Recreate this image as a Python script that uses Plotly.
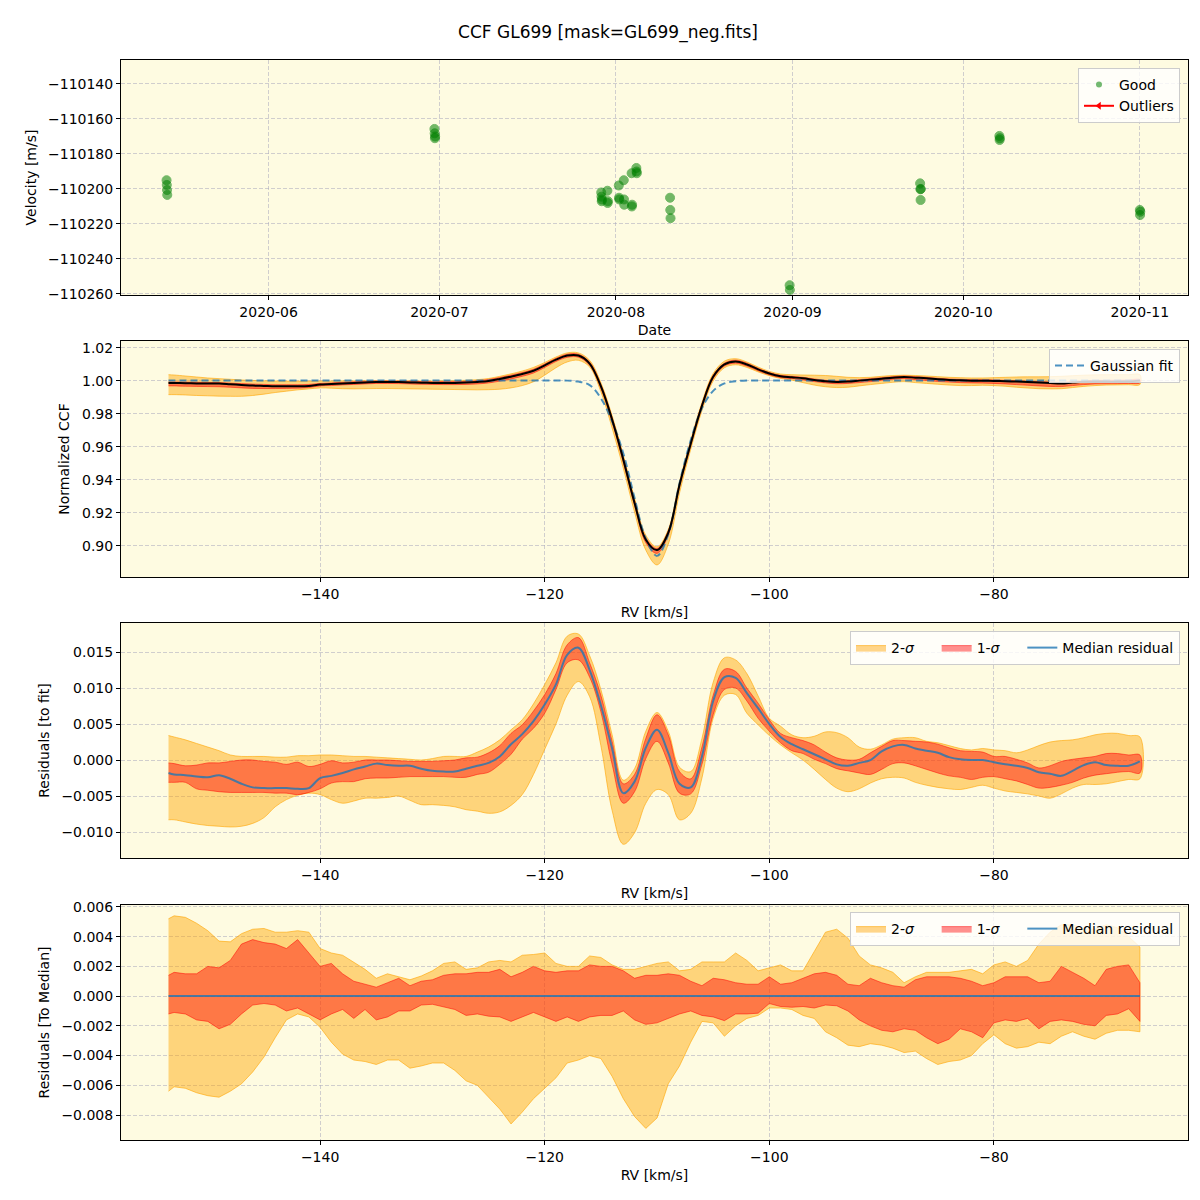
import plotly.graph_objects as go
from plotly.subplots import make_subplots

TITLE = "CCF GL699 [mask=GL699_neg.fits]"

# ---------------- top panel: velocities ----------------
DATES = [
    "2020-05-14 02:00", "2020-05-14 03:00", "2020-05-14 04:00", "2020-05-14 05:00",
    "2020-06-30 03:00", "2020-06-30 04:00", "2020-06-30 05:00", "2020-06-30 06:00",
    "2020-07-29 10:00", "2020-07-29 11:00", "2020-07-29 12:00", "2020-07-29 13:00",
    "2020-07-30 12:00", "2020-07-30 13:00", "2020-07-30 14:00",
    "2020-08-01 12:00", "2020-08-01 13:00", "2020-08-01 14:00",
    "2020-08-02 09:00", "2020-08-02 10:00", "2020-08-02 11:00",
    "2020-08-03 18:00", "2020-08-03 19:00", "2020-08-03 20:00",
    "2020-08-04 14:00", "2020-08-04 15:00", "2020-08-04 16:00",
    "2020-08-10 12:00", "2020-08-10 13:00", "2020-08-10 14:00",
    "2020-08-31 12:00", "2020-08-31 13:00",
    "2020-09-23 10:00", "2020-09-23 11:00", "2020-09-23 12:00", "2020-09-23 13:00",
    "2020-10-07 08:00", "2020-10-07 09:00", "2020-10-07 10:00",
    "2020-11-01 00:00", "2020-11-01 01:00", "2020-11-01 02:00",
]
VELS = [
    -110195.0, -110197.7, -110200.6, -110203.4,
    -110165.7, -110168.2, -110171.0, -110170.0,
    -110202.0, -110204.4, -110207.0, -110206.0,
    -110201.0, -110208.0, -110207.0,
    -110198.0, -110205.0, -110206.0,
    -110195.0, -110206.0, -110209.0,
    -110191.0, -110210.0, -110209.0,
    -110188.0, -110190.0, -110191.0,
    -110205.0, -110212.0, -110216.7,
    -110255.0, -110257.7,
    -110196.8, -110200.2, -110206.3, -110200.0,
    -110169.7, -110172.0, -110171.0,
    -110212.0, -110214.9, -110213.0,
]
VEL_TICKS = [-110140, -110160, -110180, -110200, -110220, -110240, -110260]
VEL_TICK_LABELS = ["\u2212110140", "\u2212110160", "\u2212110180", "\u2212110200",
                   "\u2212110220", "\u2212110240", "\u2212110260"]

# ---------------- RV grid (km/s) ----------------
RV = [-153.5,
      -153, -152, -151, -150, -149, -148, -147, -146, -145, -144,
      -143, -142, -141, -140, -139, -138, -137, -136, -135, -134,
      -133, -132, -131, -130, -129, -128, -127, -126, -125, -124,
      -123, -122, -121, -120, -119, -118, -117, -116, -115, -114,
      -113, -112, -111, -110, -109, -108, -107, -106, -105, -104,
      -103, -102, -101, -100, -99, -98, -97, -96, -95, -94,
      -93, -92, -91, -90, -89, -88, -87, -86, -85, -84,
      -83, -82, -81, -80, -79, -78, -77, -76, -75, -74,
      -73, -72, -71, -70, -69, -68, -67]

# ---------------- panel 2: normalized CCF ----------------
CCF_MED = [0.9988,
    0.9988, 0.9986, 0.9985, 0.9984, 0.9984, 0.9980, 0.9976, 0.9972, 0.9970, 0.9968,
    0.9968, 0.9968, 0.9970, 0.9978, 0.9981, 0.9985, 0.9988, 0.9991, 0.9994, 0.9994,
    0.9993, 0.9991, 0.9989, 0.9988, 0.9988, 0.9988, 0.9990, 0.9994, 1.0000, 1.0012,
    1.0026, 1.0042, 1.0062, 1.0095, 1.0129, 1.0154, 1.0154, 1.0105, 0.9968, 0.9766,
    0.9523, 0.9261, 0.9038, 0.8975, 0.9080, 0.9370, 0.9620, 0.9850, 1.0025, 1.0100,
    1.0118, 1.0100, 1.0070, 1.0045, 1.0028, 1.0022, 1.0016, 1.0006, 0.9998, 0.9994,
    0.9996, 1.0002, 1.0008, 1.0014, 1.0020, 1.0024, 1.0020, 1.0016, 1.0010, 1.0006,
    1.0004, 1.0002, 1.0001, 1.0000, 0.9998, 0.9996, 0.9993, 0.9990, 0.9987, 0.9984,
    0.9990, 0.9995, 0.9997, 0.9996, 0.9996, 0.9997, 1.0002]
CCF_2U = [1.0038,
    1.0036, 1.0030, 1.0024, 1.0018, 1.0014, 1.0010, 1.0006, 1.0003, 1.0001, 1.0000,
    0.9999, 0.9999, 0.9999, 1.0000, 1.0000, 1.0001, 1.0001, 1.0002, 1.0002, 1.0002,
    1.0001, 1.0001, 1.0000, 1.0000, 1.0001, 1.0002, 1.0004, 1.0008, 1.0015, 1.0028,
    1.0043, 1.0060, 1.0082, 1.0112, 1.0145, 1.0170, 1.0170, 1.0125, 0.9990, 0.9790,
    0.9550, 0.9290, 0.9065, 0.8995, 0.9100, 0.9390, 0.9640, 0.9870, 1.0045, 1.0120,
    1.0135, 1.0115, 1.0084, 1.0058, 1.0042, 1.0038, 1.0036, 1.0035, 1.0033, 1.0028,
    1.0022, 1.0020, 1.0022, 1.0028, 1.0033, 1.0035, 1.0033, 1.0030, 1.0026, 1.0022,
    1.0020, 1.0018, 1.0018, 1.0020, 1.0022, 1.0024, 1.0025, 1.0025, 1.0026, 1.0028,
    1.0032, 1.0035, 1.0037, 1.0038, 1.0038, 1.0038, 1.0038]
CCF_2L = [0.9917,
    0.9917, 0.9915, 0.9912, 0.9910, 0.9908, 0.9907, 0.9907, 0.9912, 0.9920, 0.9930,
    0.9938, 0.9946, 0.9952, 0.9958, 0.9956, 0.9953, 0.9952, 0.9953, 0.9954, 0.9954,
    0.9953, 0.9952, 0.9951, 0.9950, 0.9949, 0.9948, 0.9947, 0.9946, 0.9947, 0.9950,
    0.9958, 0.9972, 0.9995, 1.0035, 1.0080, 1.0115, 1.0125, 1.0085, 0.9935, 0.9715,
    0.9470, 0.9205, 0.8975, 0.8885, 0.9010, 0.9320, 0.9585, 0.9820, 1.0000, 1.0080,
    1.0098, 1.0082, 1.0055, 1.0032, 1.0015, 1.0005, 0.9990, 0.9975, 0.9965, 0.9960,
    0.9962, 0.9970, 0.9978, 0.9985, 0.9992, 0.9996, 0.9990, 0.9985, 0.9980, 0.9975,
    0.9972, 0.9972, 0.9974, 0.9972, 0.9968, 0.9962, 0.9957, 0.9953, 0.9952, 0.9953,
    0.9960, 0.9967, 0.9972, 0.9975, 0.9976, 0.9977, 0.9978]
CCF_1U = [0.9994,
    0.9994, 0.9993, 0.9992, 0.9991, 0.9990, 0.9987, 0.9984, 0.9981, 0.9979, 0.9977,
    0.9977, 0.9977, 0.9979, 0.9985, 0.9988, 0.9992, 0.9995, 0.9998, 1.0000, 1.0000,
    0.9999, 0.9998, 0.9996, 0.9995, 0.9996, 0.9996, 0.9998, 1.0002, 1.0009, 1.0021,
    1.0035, 1.0051, 1.0071, 1.0103, 1.0137, 1.0162, 1.0162, 1.0114, 0.9978, 0.9777,
    0.9535, 0.9273, 0.9050, 0.8985, 0.9090, 0.9380, 0.9630, 0.9860, 1.0034, 1.0108,
    1.0126, 1.0108, 1.0077, 1.0051, 1.0034, 1.0028, 1.0022, 1.0012, 1.0004, 1.0000,
    1.0002, 1.0008, 1.0014, 1.0020, 1.0026, 1.0030, 1.0026, 1.0022, 1.0016, 1.0012,
    1.0010, 1.0008, 1.0007, 1.0006, 1.0004, 1.0002, 0.9999, 0.9996, 0.9994, 0.9992,
    0.9997, 1.0002, 1.0004, 1.0004, 1.0005, 1.0006, 1.0008]
CCF_1L = [0.9970,
    0.9970, 0.9968, 0.9967, 0.9966, 0.9965, 0.9962, 0.9958, 0.9955, 0.9954, 0.9954,
    0.9955, 0.9956, 0.9960, 0.9970, 0.9972, 0.9976, 0.9979, 0.9982, 0.9985, 0.9985,
    0.9984, 0.9982, 0.9980, 0.9979, 0.9978, 0.9978, 0.9979, 0.9982, 0.9988, 0.9999,
    1.0012, 1.0028, 1.0048, 1.0082, 1.0118, 1.0143, 1.0144, 1.0095, 0.9955, 0.9750,
    0.9505, 0.9245, 0.9020, 0.8955, 0.9065, 0.9355, 0.9607, 0.9838, 1.0014, 1.0090,
    1.0108, 1.0090, 1.0062, 1.0037, 1.0020, 1.0014, 1.0006, 0.9996, 0.9988, 0.9983,
    0.9985, 0.9990, 0.9996, 1.0004, 1.0010, 1.0014, 1.0008, 1.0003, 0.9997, 0.9993,
    0.9990, 0.9988, 0.9987, 0.9985, 0.9982, 0.9978, 0.9974, 0.9970, 0.9967, 0.9966,
    0.9972, 0.9978, 0.9982, 0.9983, 0.9984, 0.9985, 0.9988]
GAUSS_FIT = [1.0003,
    1.0003, 1.0003, 1.0003, 1.0003, 1.0003, 1.0003, 1.0003, 1.0003, 1.0003, 1.0003,
    1.0003, 1.0003, 1.0003, 1.0003, 1.0003, 1.0003, 1.0003, 1.0003, 1.0003, 1.0003,
    1.0003, 1.0003, 1.0003, 1.0003, 1.0003, 1.0003, 1.0003, 1.0003, 1.0003, 1.0003,
    1.0003, 1.0003, 1.0003, 1.0003, 1.0003, 1.0002, 0.9996, 0.9975, 0.9895, 0.9755,
    0.9560, 0.9290, 0.9045, 0.8940, 0.9070, 0.9380, 0.9640, 0.9835, 0.9940, 0.9985,
    0.9998, 1.0003, 1.0003, 1.0003, 1.0003, 1.0003, 1.0003, 1.0003, 1.0003, 1.0003,
    1.0003, 1.0003, 1.0003, 1.0003, 1.0003, 1.0003, 1.0003, 1.0003, 1.0003, 1.0003,
    1.0003, 1.0003, 1.0003, 1.0003, 1.0003, 1.0003, 1.0003, 1.0003, 1.0003, 1.0003,
    1.0003, 1.0003, 1.0003, 1.0003, 1.0003, 1.0003, 1.0003]

# ---------------- panel 3: residuals to fit (units of 1e-3) ----------------
RES_MED = [-1.8,
    -2.0, -2.1, -2.3, -2.4, -2.1, -2.6, -3.3, -3.8, -3.9, -3.9,
    -3.9, -4.0, -3.9, -2.5, -2.2, -1.8, -1.3, -0.9, -0.5, -0.7,
    -0.8, -0.8, -1.2, -1.5, -1.6, -1.6, -1.2, -0.8, -0.4, 0.5,
    2.2, 3.6, 5.4, 7.7, 10.5, 14.6, 15.6, 12.5, 7.6, 1.6,
    -4.6, -3.0, 1.7, 4.2, 1.0, -3.3, -3.8, 0.5, 8.2, 11.5,
    11.4, 9.3, 7.2, 5.0, 3.2, 2.2, 1.5, 0.8, 0.1, -0.6,
    -0.8, -0.4, 0.0, 1.2, 1.9, 2.1, 1.6, 1.3, 1.0, 0.4,
    0.1, 0.0, 0.0, -0.3, -0.6, -0.8, -1.1, -1.7, -1.9, -2.2,
    -1.5, -0.7, -0.3, -0.7, -0.8, -0.8, -0.2]
RES_1U = [-0.4,
    -0.5, -0.8, -0.7, -0.4, -0.4, -0.2, 0.0, 0.0, -0.2, -0.3,
    -0.6, -0.3, -0.9, -0.6, -0.1, -0.4, -0.3, 0.0, 0.0, 0.0,
    -0.1, -0.2, -0.2, -0.2, -0.1, 0.0, 0.3, 0.4, 1.0, 2.0,
    3.7, 4.9, 6.8, 9.1, 12.0, 16.0, 17.0, 13.5, 9.0, 2.6,
    -3.3, -2.0, 3.0, 6.3, 3.5, -1.6, -2.6, 1.8, 9.0, 12.6,
    12.3, 10.0, 7.9, 5.6, 3.7, 3.1, 2.7, 2.1, 1.1, 0.3,
    0.0, 0.1, 1.0, 1.9, 2.7, 2.7, 2.6, 2.5, 2.2, 1.7,
    1.3, 1.2, 1.1, 0.5, 0.5, 0.1, -0.4, -1.1, -0.8, -0.2,
    0.1, 0.3, 0.5, 0.9, 0.9, 0.7, 0.7]
RES_1L = [-3.1,
    -3.1, -3.1, -4.0, -4.2, -4.4, -4.5, -4.5, -4.5, -4.5, -4.6,
    -4.6, -4.8, -4.5, -4.0, -3.2, -3.0, -3.0, -2.6, -2.5, -2.5,
    -2.4, -2.3, -2.3, -2.3, -2.3, -2.4, -2.4, -2.0, -1.7, -0.6,
    0.8, 2.9, 4.4, 6.5, 9.8, 13.5, 13.9, 11.5, 6.7, -0.6,
    -6.0, -4.4, 0.2, 2.6, -0.4, -4.6, -4.7, -0.6, 6.3, 9.8,
    10.0, 8.2, 5.8, 4.0, 2.4, 1.3, 0.9, 0.1, -0.5, -1.2,
    -1.5, -1.8, -2.0, -1.3, -0.5, -0.4, -0.8, -1.3, -1.8, -2.2,
    -2.4, -2.7, -2.4, -2.3, -2.6, -2.9, -3.4, -3.9, -3.8, -3.5,
    -3.1, -2.5, -2.1, -1.9, -1.7, -1.6, -1.8]
RES_2U = [3.4,
    3.2, 2.8, 2.3, 1.8, 1.3, 0.7, 0.5, 0.5, 0.5, 0.4,
    0.4, 0.6, 0.6, 0.7, 0.7, 0.6, 0.5, 0.5, 0.4, 0.3,
    0.2, 0.1, 0.0, 0.2, 0.5, 0.5, 0.5, 1.1, 1.8, 2.8,
    4.2, 5.6, 7.8, 10.5, 13.5, 17.2, 17.5, 14.5, 9.8, 3.5,
    -2.8, -1.2, 4.0, 6.6, 4.0, -1.0, -1.6, 3.0, 10.8, 14.2,
    13.9, 12.0, 8.9, 5.8, 4.7, 3.5, 3.1, 3.3, 3.9, 3.8,
    3.1, 1.8, 1.5, 2.1, 2.9, 3.1, 3.1, 2.6, 2.4, 2.0,
    1.6, 1.4, 1.6, 1.4, 1.3, 1.0, 1.4, 2.0, 2.5, 2.7,
    2.8, 3.1, 3.5, 3.7, 3.7, 3.4, 3.2]
RES_2L = [-8.3,
    -8.3, -8.6, -8.9, -9.1, -9.2, -9.3, -9.2, -8.8, -8.0, -6.5,
    -5.5, -4.9, -4.6, -4.8, -5.5, -6.0, -5.7, -5.3, -5.3, -5.2,
    -5.0, -5.6, -6.2, -6.2, -6.3, -6.5, -6.9, -7.1, -7.4, -7.2,
    -6.3, -4.8, -2.0, 1.5, 5.0, 9.0, 10.9, 8.8, 2.0, -7.0,
    -11.7, -10.1, -6.0, -4.1, -4.8, -8.3, -7.4, -2.5, 5.8, 9.0,
    9.1, 6.5, 4.9, 3.4, 2.1, 1.0, 0.0, -1.3, -2.7, -3.9,
    -4.4, -4.0, -3.2, -2.6, -2.4, -2.5, -3.1, -3.5, -3.8, -4.0,
    -4.1, -3.8, -3.5, -3.9, -4.3, -4.5, -4.7, -5.0, -5.3, -4.7,
    -3.9, -3.4, -3.4, -3.3, -3.0, -2.7, -2.6]

# ---------------- panel 4: residuals to median (units of 1e-3) ----------------
MED_1U = [1.4,
    1.6, 1.5, 1.5, 2.0, 1.9, 2.4, 3.5, 3.8, 3.6, 3.5,
    3.2, 3.8, 2.9, 2.0, 2.2, 1.5, 1.0, 0.8, 0.6, 0.9,
    1.2, 0.7, 1.0, 1.1, 1.4, 1.5, 1.5, 1.6, 1.6, 1.8,
    1.3, 1.6, 2.0, 1.7, 1.6, 1.7, 1.7, 2.1, 2.0, 2.0,
    1.7, 1.2, 1.4, 1.4, 1.5, 1.4, 1.0, 0.7, 1.2, 1.1,
    0.9, 0.8, 0.8, 1.3, 0.8, 0.9, 1.2, 1.5, 1.6, 1.4,
    0.8, 0.7, 1.2, 0.9, 0.7, 0.6, 1.1, 1.3, 1.3, 1.3,
    1.2, 1.0, 0.7, 0.9, 1.3, 1.3, 1.3, 0.9, 1.0, 2.0,
    1.6, 1.2, 0.7, 1.8, 2.0, 2.1, 0.9]
MED_1L = [-1.2,
    -1.1, -1.2, -1.6, -1.7, -2.2, -1.9, -1.2, -0.6, -0.5, -0.6,
    -1.0, -0.8, -1.2, -1.6, -1.2, -0.9, -1.5, -0.9, -1.6, -1.4,
    -1.0, -1.0, -0.6, -0.55, -0.7, -0.9, -1.3, -1.2, -1.35, -1.4,
    -1.7, -1.4, -1.1, -1.4, -1.7, -1.4, -1.7, -1.4, -1.3, -1.3,
    -1.0, -1.6, -1.9, -1.8, -1.5, -1.2, -1.0, -1.3, -1.4, -1.65,
    -1.2, -1.2, -1.15, -0.5, -0.7, -0.75, -0.7, -0.8, -0.6, -0.65,
    -1.0, -1.6, -2.0, -2.3, -2.4, -2.2, -2.3, -2.8, -3.2, -2.9,
    -2.2, -2.4, -2.8, -1.8, -1.6, -1.7, -1.5, -2.2, -1.7, -1.6,
    -1.7, -1.9, -2.0, -1.3, -1.2, -0.85, -1.7]
MED_2U = [5.2,
    5.4, 5.3, 4.9, 4.4, 3.7, 3.65, 4.2, 4.5, 4.55, 4.3,
    4.3, 4.4, 4.3, 3.2, 2.9, 2.75, 2.3, 1.8, 1.2, 1.5,
    1.3, 1.1, 1.35, 1.7, 2.2, 2.3, 1.8, 1.9, 2.3, 2.4,
    2.3, 2.75, 2.8, 2.9, 2.2, 2.0, 2.0, 2.7, 2.6, 2.1,
    1.8, 1.8, 2.0, 2.2, 2.3, 1.7, 1.8, 2.3, 2.3, 2.3,
    2.9, 2.4, 1.7, 1.9, 2.1, 1.7, 1.7, 3.0, 4.3, 4.5,
    3.9, 2.7, 2.1, 1.9, 1.6, 0.9, 1.3, 1.6, 1.6, 1.6,
    1.7, 1.8, 1.5, 2.1, 2.3, 2.0, 2.4, 3.5, 4.3, 4.8,
    4.8, 4.5, 4.5, 4.8, 4.6, 4.0, 3.3]
MED_2L = [-6.4,
    -6.1, -6.2, -6.5, -6.7, -6.8, -6.4, -5.9, -5.1, -4.1, -2.8,
    -1.6, -1.2, -1.4, -2.1, -3.1, -3.9, -4.3, -4.4, -4.6, -4.3,
    -4.3, -4.85, -4.7, -4.5, -4.5, -5.0, -5.7, -6.0, -6.8, -7.6,
    -8.6, -7.8, -6.9, -6.2, -5.5, -4.5, -4.3, -4.0, -4.2, -5.4,
    -6.9, -8.1, -8.9, -8.2, -5.9, -4.7, -3.1, -1.7, -1.8, -2.7,
    -2.0, -1.5, -1.3, -0.8, -0.8, -0.9, -1.3, -1.5, -2.4, -2.8,
    -3.3, -3.4, -3.2, -3.3, -3.5, -3.8, -3.7, -4.2, -4.6, -4.4,
    -4.3, -4.0, -3.2, -2.6, -3.2, -3.5, -3.4, -3.1, -3.2, -2.7,
    -2.4, -2.7, -2.9, -2.5, -2.3, -2.3, -2.4]
MED_LINE = [0.0] * len(RV)

for arr in (CCF_MED, CCF_2U, CCF_2L, CCF_1U, CCF_1L, GAUSS_FIT, RES_MED, RES_1U,
            RES_1L, RES_2U, RES_2L, MED_1U, MED_1L, MED_2U, MED_2L):
    assert len(arr) == len(RV), len(arr)

SCALE = 1e-3

# ---------------- styles ----------------
FONT = "DejaVu Sans"
FS = 14
BG = "#fefbe1"
ORANGE_FILL = "rgba(255,165,0,0.45)"
ORANGE_EDGE = "rgba(255,165,0,0.6)"
RED_FILL = "rgba(255,0,0,0.43)"
RED_EDGE = "rgba(255,0,0,0.5)"
BLUE = "rgba(31,119,180,0.8)"
GRID = "rgba(170,170,190,0.55)"
PAD = "\u00a0\u00a0\u00a0\u00a0"

fig = make_subplots(rows=4, cols=1)


def band(up, lo, fill, edge, name, row, legend, showlegend, shape, scale=1.0):
    xs = RV + RV[::-1]
    ys = [v * scale for v in up] + [v * scale for v in lo[::-1]]
    fig.add_trace(go.Scatter(x=xs, y=ys, fill="toself", fillcolor=fill, mode="lines",
                             line=dict(color=edge, width=1, shape=shape),
                             name=name, legend=legend, showlegend=showlegend,
                             hoverinfo="skip"), row=row, col=1)


# panel 1
fig.add_trace(go.Scatter(x=DATES, y=VELS, mode="markers", name="Good", showlegend=False,
                         marker=dict(color="green", size=9, opacity=0.55,
                                     line=dict(color="green", width=1))), row=1, col=1)
fig.add_trace(go.Scatter(x=[None], y=[None], mode="markers", name="Good", legend="legend",
                         marker=dict(color="green", size=6, opacity=0.55)), row=1, col=1)
fig.add_trace(go.Scatter(x=[None], y=[None], mode="lines+markers", name="Outliers",
                         legend="legend", line=dict(color="red", width=2),
                         marker=dict(symbol="triangle-left", size=7, color="red")),
              row=1, col=1)

# panel 2
band(CCF_2U, CCF_2L, ORANGE_FILL, ORANGE_EDGE, "2-σ", 2, "legend2", False, "spline")
band(CCF_1U, CCF_1L, RED_FILL, RED_EDGE, "1-σ", 2, "legend2", False, "spline")
fig.add_trace(go.Scatter(x=RV, y=GAUSS_FIT, mode="lines", name="Gaussian fit", legend="legend2",
                         line=dict(color=BLUE, width=2, dash="7px,4px", shape="spline")),
              row=2, col=1)
fig.add_trace(go.Scatter(x=RV, y=CCF_MED, mode="lines", name="Median CCF", legend="legend2",
                         showlegend=False,
                         line=dict(color="black", width=2, shape="spline")), row=2, col=1)

# panel 3
band(RES_2U, RES_2L, ORANGE_FILL, ORANGE_EDGE, "2-<i>σ</i>" + PAD, 3, "legend3", True, "spline", SCALE)
band(RES_1U, RES_1L, RED_FILL, RED_EDGE, "1-<i>σ</i>" + PAD, 3, "legend3", True, "spline", SCALE)
fig.add_trace(go.Scatter(x=RV, y=[v * SCALE for v in RES_MED], mode="lines",
                         name="Median residual", legend="legend3",
                         line=dict(color=BLUE, width=2, shape="spline")), row=3, col=1)

# panel 4
band(MED_2U, MED_2L, ORANGE_FILL, ORANGE_EDGE, "2-<i>σ</i>" + PAD, 4, "legend4", True, "linear", SCALE)
band(MED_1U, MED_1L, RED_FILL, RED_EDGE, "1-<i>σ</i>" + PAD, 4, "legend4", True, "linear", SCALE)
fig.add_trace(go.Scatter(x=RV, y=MED_LINE, mode="lines", name="Median residual",
                         legend="legend4", line=dict(color=BLUE, width=2)), row=4, col=1)

# ---------------- axes ----------------
axis_common = dict(showline=True, linecolor="black", linewidth=1, mirror=True,
                   ticks="outside", ticklen=4, tickcolor="black", showgrid=True,
                   gridcolor=GRID, griddash="4px,2px", gridwidth=1, zeroline=False,
                   tickfont=dict(size=FS, color="black", family=FONT),
                   title_font=dict(size=FS, color="black", family=FONT))

fig.update_xaxes(**axis_common)
fig.update_yaxes(**axis_common)

fig.update_xaxes(type="date", range=["2020-05-06 02:00", "2020-11-09 11:00"],
                 tickformat="%Y-%m", dtick="M1", tick0="2020-06-01",
                 title=dict(text="Date", standoff=6), row=1, col=1)
fig.update_yaxes(range=[-110260.6, -110126.3], tickvals=VEL_TICKS, ticktext=VEL_TICK_LABELS,
                 title=dict(text="Velocity [m/s]", standoff=8), domain=[0.7824, 1.0], row=1, col=1)

for r in (2, 3, 4):
    fig.update_xaxes(range=[-157.73, -62.72], dtick=20, tick0=-140,
                     title=dict(text="RV [km/s]", standoff=6), row=r, col=1)

fig.update_yaxes(range=[0.8812, 1.0242], dtick=0.02, tick0=0.9, tickformat=".2f",
                 title=dict(text="Normalized CCF", standoff=9), domain=[0.5213, 0.7398], row=2, col=1)
fig.update_yaxes(range=[-0.01361, 0.01903], dtick=0.005, tick0=0, tickformat=".3f",
                 title=dict(text="Residuals [to fit]", standoff=8), domain=[0.2611, 0.4787], row=3, col=1)
fig.update_yaxes(range=[-0.00968, 0.00613], dtick=0.002, tick0=0, tickformat=".3f",
                 title=dict(text="Residuals [To Median]", standoff=8), domain=[0.0, 0.2176], row=4, col=1)

legend_common = dict(xanchor="right", yanchor="top", bgcolor="rgba(255,255,255,0.8)",
                     bordercolor="#cccccc", borderwidth=1,
                     font=dict(size=FS, color="black", family=FONT))

fig.update_layout(
    width=1200, height=1200,
    paper_bgcolor="white", plot_bgcolor=BG,
    font=dict(family=FONT, size=FS, color="black"),
    margin=dict(l=113, r=20, t=52, b=68),
    title=dict(text=TITLE, x=0.5, xanchor="center", y=1 - 24 / 1200, yanchor="middle",
               font=dict(size=17, family=FONT, color="black")),
    legend=dict(x=0.9925, y=0.9926, **legend_common),
    legend2=dict(x=0.9925, y=0.7324, **legend_common),
    legend3=dict(x=0.9925, y=0.4713, orientation="h", **legend_common),
    legend4=dict(x=0.9925, y=0.2111, orientation="h", **legend_common),
)

fig.write_html("out.html")
